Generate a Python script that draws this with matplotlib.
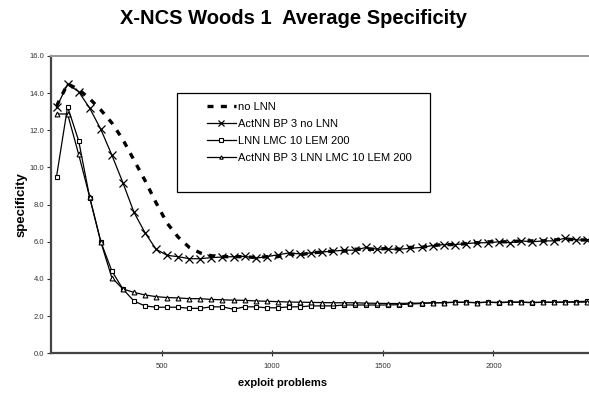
import numpy as np
import matplotlib
matplotlib.use('Agg')
import matplotlib.pyplot as plt
from matplotlib.patches import Rectangle

plt.rcParams['font.family'] = ['Liberation Sans', 'DejaVu Sans']

# exploit problems (category midpoints, every 50)
problems = np.arange(25, 2426, 50)

no_lnn = [13.3, 14.5, 14.2, 13.7, 13.1, 12.4, 11.5, 10.4, 9.3, 8.1,
          7.0, 6.25, 5.7, 5.4, 5.25, 5.2, 5.2, 5.2, 5.15, 5.2,
          5.2, 5.35, 5.3, 5.4, 5.45, 5.5, 5.5, 5.6, 5.6, 5.6,
          5.65, 5.6, 5.7, 5.7, 5.8, 5.85, 5.85, 5.9, 5.95, 6.0,
          6.0, 6.0, 6.05, 6.05, 6.05, 6.1, 6.15, 6.1, 6.1]
actnn_no_lnn = [13.24, 14.48, 14.08, 13.19, 12.06, 10.67, 9.18, 7.59, 6.49, 5.60,
                5.27, 5.20, 5.09, 5.09, 5.15, 5.18, 5.2, 5.22, 5.12, 5.2,
                5.3, 5.4, 5.35, 5.4, 5.45, 5.5, 5.55, 5.55, 5.7, 5.6,
                5.6, 5.6, 5.65, 5.7, 5.8, 5.85, 5.85, 5.9, 5.95, 5.95,
                6.0, 5.95, 6.05, 6.0, 6.05, 6.05, 6.2, 6.1, 6.1]
lnn = [9.51, 13.27, 11.44, 8.38, 6.01, 4.43, 3.46, 2.81, 2.55, 2.48,
       2.48, 2.48, 2.42, 2.42, 2.5, 2.5, 2.37, 2.5, 2.5, 2.45,
       2.45, 2.5, 2.5, 2.55, 2.55, 2.55, 2.6, 2.6, 2.6, 2.6,
       2.6, 2.62, 2.65, 2.68, 2.72, 2.72, 2.75, 2.75, 2.72, 2.75,
       2.72, 2.75, 2.75, 2.72, 2.75, 2.75, 2.75, 2.78, 2.8]
actnn_lnn = [12.88, 12.88, 10.71, 8.4, 6.0, 4.07, 3.46, 3.28, 3.14, 3.05,
             3.0, 2.98, 2.94, 2.94, 2.9, 2.88, 2.86, 2.85, 2.82, 2.8,
             2.78, 2.76, 2.75, 2.74, 2.73, 2.72, 2.72, 2.72, 2.7, 2.69,
             2.68, 2.68, 2.7, 2.7, 2.72, 2.73, 2.74, 2.74, 2.73, 2.75,
             2.74, 2.76, 2.75, 2.74, 2.75, 2.74, 2.76, 2.75, 2.76]

labels = ['no LNN', 'ActNN BP 3 no LNN', 'LNN LMC 10 LEM 200',
          'ActNN BP 3 LNN LMC 10 LEM 200']

W, H = 589, 395
fig = plt.figure(figsize=(W / 100, H / 100), dpi=100)
ax = fig.add_axes([51 / W, (H - 353.3) / H, (W - 51) / W, 297.3 / H])

ax.plot(problems, no_lnn, color='black', lw=2.4,
        linestyle=(0, (1.8, 2.2)), label=labels[0])
ax.plot(problems, actnn_no_lnn, color='black', lw=0.9, marker='x',
        markersize=6, markeredgewidth=0.9, label=labels[1])
ax.plot(problems, lnn, color='black', lw=0.9, marker='s', markersize=3.5,
        markerfacecolor='white', markeredgewidth=0.8, label=labels[2])
ax.plot(problems, actnn_lnn, color='black', lw=0.9, marker='^', markersize=3.5,
        markerfacecolor='white', markeredgewidth=0.8, label=labels[3])

ax.set_xlim(0, 2432)
ax.set_ylim(0, 16)
ax.set_xticks([500, 1000, 1500, 2000])
ax.set_yticks(np.arange(0, 16.1, 2))
ax.set_yticklabels(['{:.1f}'.format(v) for v in np.arange(0, 16.1, 2)])
ax.tick_params(axis='both', labelsize=5.5, colors='#333333', width=0.8)
ax.tick_params(axis='x', direction='inout', length=4, pad=5)
ax.tick_params(axis='y', direction='out', length=3, pad=2)

for side in ['left', 'bottom']:
    ax.spines[side].set_color('#444444')
    ax.spines[side].set_linewidth(1.6)
ax.spines['top'].set_color('#999999')
ax.spines['top'].set_linewidth(1.4)
ax.spines['right'].set_visible(False)

# axis titles placed in pixel positions of the figure
fig.text(283 / W, 1 - 383 / H, 'exploit problems', ha='center', va='center',
         fontsize=8, fontweight='bold')
fig.text(22 / W, 1 - 205 / H, 'specificity', ha='center', va='center',
         rotation=90, fontsize=9.5, fontweight='bold')
fig.text(294 / W, 1 - 18 / H, 'X-NCS Woods 1  Average Specificity',
         ha='center', va='center', fontsize=14.5, fontweight='bold')

# legend box
fig.patches.append(Rectangle((176.7 / W, (H - 191.7) / H),
                             (430 - 176.7) / W, (191.7 - 93.3) / H,
                             transform=fig.transFigure, fill=False,
                             edgecolor='black', lw=0.9))
leg = ax.legend(loc='upper left', bbox_to_anchor=(207 / W, (H - 102) / H),
                bbox_transform=fig.transFigure, frameon=False, fontsize=8,
                handlelength=2.6, handletextpad=0.2, labelspacing=0.62,
                borderpad=0, borderaxespad=0, markerscale=0.7)

fig.savefig('out.png', dpi=100)
